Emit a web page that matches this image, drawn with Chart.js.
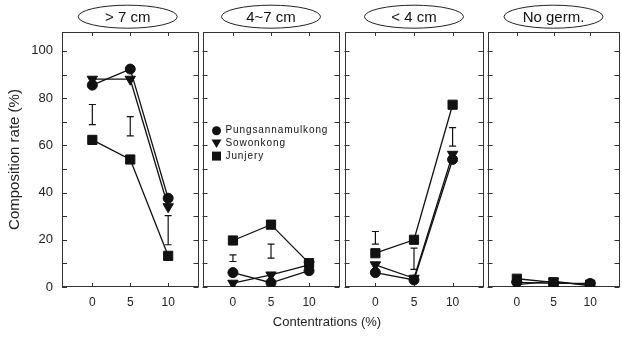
<!DOCTYPE html>
<html><head><meta charset="utf-8">
<script src="https://cdn.jsdelivr.net/npm/chart.js@4.4.1/dist/chart.umd.min.js"></script>
<style>
html,body{margin:0;padding:0;background:#fff;}
#wrap{position:relative;width:622px;height:345px;overflow:hidden;background:#fff;}
canvas{position:absolute;top:0;}
#xt{position:absolute;left:177px;width:300px;top:314px;text-align:center;font:13px "Liberation Sans",Arial,sans-serif;color:#222;}
</style></head><body>
<div id="wrap">
<canvas id="c0"></canvas><canvas id="c1"></canvas><canvas id="c2"></canvas><canvas id="c3"></canvas>
<div id="xt"></div>
</div>
<script>
// ---- data ----
const concentrations = [0, 5, 10];
const panelTitles = ['> 7 cm', '4~7 cm', '< 4 cm', 'No germ.'];
const seriesNames = ['Pungsannamulkong', 'Sowonkong', 'Junjery'];
const pungsan = [[85.5, 92.3, 37.6], [6.1, 1.8, 6.9], [6.1, 3.0, 54.0], [2.0, 1.5, 1.5]];
const sowon   = [[88.0, 88.0, 34.0], [1.6, 5.1, 9.4], [9.4, 3.7, 56.2], [1.0, 2.5, 0.5]];
const junjery = [[62.3, 54.0, 13.2], [19.7, 26.4, 10.1], [14.3, 20.0, 77.2], [3.5, 2.0, 1.0]];
const lsdLow  = [[68.8, 64.0, 17.9], [10.8, 12.2, null], [18.2, 7.5, 59.7], [null, null, null]];
const lsdHigh = [[77.3, 72.2, 30.2], [13.6, 18.2, null], [23.5, 16.5, 67.5], [null, null, null]];
const yTickValues = [0, 10, 20, 30, 40, 50, 60, 70, 80, 90, 100];
const xTickValues = [0, 5, 10];
const yAxisTitle = 'Composition rate (%)';
const xAxisTitle = 'Contentrations (%)';

// ---- layout ----
const panelBox = [[62, 198], [203, 339], [345, 483], [488, 619]];
const markerStyles = ['circle', 'triangle', 'rect'];
const markerRadius = [5, 6, 6.5];
const markerRotation = [0, 180, 0];
const INK = '#111';
const FONT = '"Liberation Sans", Arial, sans-serif';
Chart.defaults.font.family = FONT;
Chart.defaults.color = '#222';

document.getElementById('xt').textContent = xAxisTitle;

const framePlugin = {
  id: 'frame',
  beforeDatasetsDraw(chart) {
    const {ctx, chartArea: a, scales: {x, y}} = chart;
    ctx.save();
    ctx.strokeStyle = '#333'; ctx.lineWidth = 1;
    ctx.strokeRect(Math.round(a.left) + 0.5, Math.round(a.top) + 0.5,
                   Math.round(a.right - a.left) - 1, Math.round(a.bottom - a.top) - 1);
    ctx.beginPath();
    y.ticks.forEach(t => {
      const py = Math.round(y.getPixelForValue(t.value)) + 0.5;
      ctx.moveTo(a.left, py); ctx.lineTo(a.left + 5, py);
      ctx.moveTo(a.right, py); ctx.lineTo(a.right - 5, py);
    });
    x.ticks.forEach(t => {
      const px = Math.round(x.getPixelForValue(t.value)) + 0.5;
      ctx.moveTo(px, a.top); ctx.lineTo(px, a.top + 4);
      ctx.moveTo(px, a.bottom); ctx.lineTo(px, a.bottom - 4);
    });
    ctx.stroke();
    ctx.restore();
  }
};

const ovalPlugin = {
  id: 'ovalTitle',
  afterDraw(chart, args, opts) {
    if (!opts.text) return;
    const {ctx, chartArea: a} = chart;
    const cx = (a.left + a.right) / 2 + (opts.dx || 0), cy = 16.7;
    ctx.save();
    ctx.strokeStyle = '#222'; ctx.lineWidth = 1;
    ctx.beginPath(); ctx.ellipse(cx, cy, 49.5, 11.5, 0, 0, Math.PI * 2); ctx.stroke();
    ctx.fillStyle = '#111';
    ctx.font = '15px ' + FONT;
    ctx.textAlign = 'center'; ctx.textBaseline = 'middle';
    ctx.fillText(opts.text, cx, cy + 1);
    ctx.restore();
  }
};

function drawMarker(ctx, style, x, y) {
  ctx.beginPath();
  if (style === 'circle') { ctx.arc(x, y, 4.5, 0, Math.PI * 2); }
  else if (style === 'triangle') { ctx.moveTo(x - 5, y - 4); ctx.lineTo(x + 5, y - 4); ctx.lineTo(x, y + 4.5); ctx.closePath(); }
  else { ctx.rect(x - 4.5, y - 4.5, 9, 9); }
  ctx.fill();
}

const legendPlugin = {
  id: 'panelLegend',
  afterDraw(chart, args, opts) {
    if (!opts.show) return;
    const {ctx, chartArea: a} = chart;
    ctx.save();
    ctx.fillStyle = '#111';
    ctx.font = '10px ' + FONT;
    ctx.letterSpacing = '0.9px';
    ctx.textAlign = 'left'; ctx.textBaseline = 'middle';
    let row = 0;
    chart.data.datasets.forEach(ds => {
      if (!ds.inLegend) return;
      const y = 130.7 + row * 12.7;
      drawMarker(ctx, ds.pointStyle, a.left + 14, y);
      ctx.fillText(ds.label, a.left + 23, y);
      row++;
    });
    ctx.restore();
  }
};

function pts(vals) { return concentrations.map((c, i) => ({x: c, y: vals[i]})); }
function lsdPts(p) {
  const out = [];
  concentrations.forEach((c, i) => {
    if (lsdLow[p][i] == null) return;
    out.push({x: c, y: lsdLow[p][i]}, {x: c, y: lsdHigh[p][i]}, {x: c, y: null});
  });
  return out;
}

const allSeries = [pungsan, sowon, junjery];

function makeChart(cv, p, first) {
  const datasets = allSeries.map((s, k) => ({
    label: seriesNames[k],
    inLegend: true,
    data: pts(s[p]),
    borderColor: INK, borderWidth: 1.3,
    pointStyle: markerStyles[k], pointRadius: markerRadius[k], pointRotation: markerRotation[k],
    pointBackgroundColor: INK, pointBorderColor: INK, pointBorderWidth: 1,
    fill: false, tension: 0
  }));
  datasets.push({
    label: 'LSD',
    inLegend: false,
    data: lsdPts(p),
    borderColor: INK, borderWidth: 1.2,
    pointStyle: 'line', pointRadius: 3.5, pointBorderColor: INK, pointBorderWidth: 1.2,
    spanGaps: false, fill: false
  });
  return new Chart(cv, {
    type: 'line',
    data: {datasets},
    options: {
      responsive: false, maintainAspectRatio: false, animation: false, devicePixelRatio: 1,
      layout: {padding: {left: first ? 0 : 2, right: 2, top: 32, bottom: 28}},
      plugins: {
        legend: {display: false}, tooltip: {enabled: false},
        ovalTitle: {text: panelTitles[p], dx: first ? -2.5 : 0},
        panelLegend: {show: p === 1}
      },
      scales: {
        x: {
          type: 'linear', min: -4, max: 14,
          afterBuildTicks: s => { s.ticks = xTickValues.map(v => ({value: v})); },
          afterFit: s => { s.height = 30; },
          grid: {display: false, drawTicks: false}, border: {display: false},
          ticks: {autoSkip: false, maxRotation: 0, padding: 8, font: {size: 12}, color: '#222', callback: v => String(v)}
        },
        y: {
          display: first,
          min: 0, max: 108,
          afterBuildTicks: s => { s.ticks = yTickValues.map(v => ({value: v})); },
          afterFit: s => { s.width = first ? 62 : 0; },
          grid: {display: false, drawTicks: false}, border: {display: false},
          ticks: {autoSkip: false, padding: 9, font: {size: 13}, color: '#222',
                  callback: v => (v % 20 === 0 ? String(v) : '')},
          title: {display: true, text: yAxisTitle, font: {size: 15}, color: '#222', padding: {top: 6, bottom: 0}}
        }
      }
    },
    plugins: [framePlugin, ovalPlugin, legendPlugin]
  });
}

function setCanvas(cv, left, width) {
  cv.style.left = left + 'px';
  cv.width = width; cv.height = 345;
  cv.style.width = width + 'px'; cv.style.height = '345px';
}

panelBox.forEach(([L, R], p) => {
  const cv = document.getElementById('c' + p);
  const first = p === 0;
  let canvasLeft = first ? 0 : L - 2;
  let canvasWidth = first ? R + 2 : R - L + 4;
  setCanvas(cv, canvasLeft, canvasWidth);
  let chart = makeChart(cv, p, first);
  // measure the auto padding Chart.js adds for tick labels, then rebuild wider
  const a = chart.chartArea;
  const dl = Math.round((canvasLeft + a.left) - L);
  const dr = Math.round(R - (canvasLeft + a.right));
  if (dl !== 0 || dr !== 0) {
    chart.destroy();
    canvasLeft -= dl;
    canvasWidth += dl + dr;
    setCanvas(cv, canvasLeft, canvasWidth);
    chart = makeChart(cv, p, first);
  }
});
</script>
</body></html>
